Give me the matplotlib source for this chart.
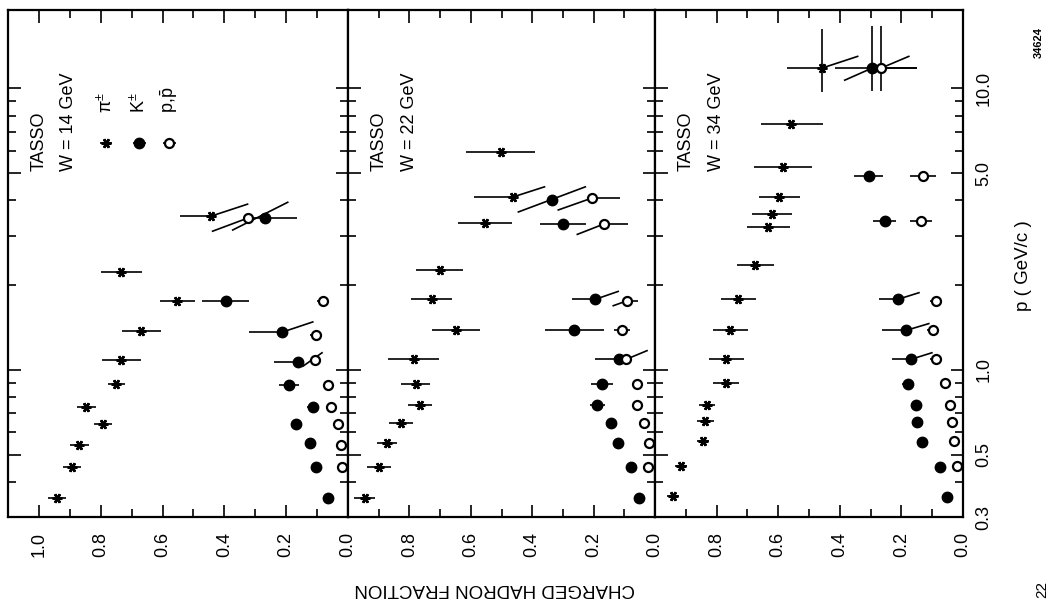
import numpy as np
import matplotlib
matplotlib.use('Agg')
import matplotlib.pyplot as plt
from matplotlib.ticker import FixedLocator, NullFormatter

#%% data: charged hadron fraction vs p, TASSO

# W = 14 GeV
p14_pi = [0.35, 0.45, 0.54, 0.64, 0.74, 0.89, 1.08, 1.37, 1.76, 2.22, 3.52]
f14_pi = [0.941, 0.893, 0.870, 0.792, 0.847, 0.750, 0.734, 0.669, 0.552, 0.734, 0.442]
up14_pi = [0.03, 0.03, 0.031, 0.03, 0.031, 0.028, 0.063, 0.063, 0.056, 0.066, 0.103]
dn14_pi = [0.03, 0.03, 0.031, 0.03, 0.031, 0.028, 0.063, 0.063, 0.056, 0.066, 0.0]

p14_k = [0.35, 0.45, 0.55, 0.64, 0.74, 0.88, 1.07, 1.36, 1.76, 3.46]
f14_k = [0.065, 0.104, 0.123, 0.169, 0.114, 0.190, 0.162, 0.214, 0.396, 0.269]
up14_k = [0, 0, 0, 0, 0.02, 0.032, 0.078, 0.107, 0.077, 0]
dn14_k = [0, 0, 0, 0, 0.02, 0.032, 0, 0, 0.077, 0.103]

p14_p = [0.45, 0.54, 0.64, 0.74, 0.88, 1.08, 1.33, 1.76, 3.46]
f14_p = [0.020, 0.023, 0.032, 0.055, 0.065, 0.107, 0.104, 0.081, 0.325]
up14_p = [0, 0, 0, 0, 0, 0, 0.02, 0.02, 0]
dn14_p = [0, 0, 0, 0, 0, 0.02, 0.02, 0.02, 0.05]

# slanted error lines (f1, p1, f2, p2)
slant14 = [(0.442, 3.52, 0.325, 3.88), (0.438, 3.11, 0.325, 3.46),
           (0.373, 3.14, 0.195, 3.94), (0.214, 1.36, 0.114, 1.48),
           (0.146, 1.03, 0.084, 1.15)]

# W = 22 GeV
p22_pi = [0.35, 0.45, 0.55, 0.65, 0.75, 0.89, 1.09, 1.38, 1.78, 2.27, 3.32, 4.12, 5.96]
f22_pi = [0.945, 0.899, 0.873, 0.828, 0.766, 0.779, 0.786, 0.649, 0.727, 0.701, 0.555, 0.461, 0.503]
up22_pi = [0.034, 0.038, 0.032, 0.039, 0.038, 0.047, 0.083, 0.079, 0.067, 0.076, 0.088, 0.13, 0.114]
dn22_pi = [0.034, 0.038, 0.032, 0.039, 0.038, 0.047, 0.083, 0.079, 0.067, 0.076, 0.088, 0.0, 0.113]

p22_k = [0.35, 0.45, 0.55, 0.65, 0.75, 0.89, 1.09, 1.38, 1.78, 3.30, 4.01]
f22_k = [0.052, 0.078, 0.120, 0.143, 0.188, 0.172, 0.117, 0.263, 0.195, 0.299, 0.334]
up22_k = [0, 0, 0, 0, 0.025, 0.036, 0.078, 0.096, 0.075, 0.075, 0]
dn22_k = [0, 0, 0, 0, 0.025, 0.036, 0, 0.096, 0, 0.075, 0]

p22_p = [0.45, 0.55, 0.65, 0.75, 0.89, 1.09, 1.38, 1.76, 3.30, 4.08]
f22_p = [0.023, 0.019, 0.036, 0.058, 0.058, 0.094, 0.107, 0.091, 0.166, 0.205]
up22_p = [0, 0, 0, 0, 0, 0, 0.027, 0, 0, 0]
dn22_p = [0, 0, 0, 0, 0, 0, 0.027, 0.036, 0.078, 0.091]

slant22 = [(0.461, 4.12, 0.36, 4.47), (0.445, 3.64, 0.227, 4.47),
           (0.195, 1.78, 0.12, 1.90), (0.094, 1.09, 0.026, 1.17),
           (0.136, 1.69, 0.091, 1.76), (0.253, 3.03, 0.166, 3.30),
           (0.315, 3.70, 0.205, 4.08)]

# W = 34 GeV
p34_pi = [0.355, 0.454, 0.558, 0.657, 0.75, 0.899, 1.09, 1.39, 1.78, 2.35, 3.21, 3.57, 4.11, 5.27, 7.5, 11.8]
f34_pi = [0.941, 0.915, 0.844, 0.837, 0.831, 0.769, 0.769, 0.756, 0.73, 0.674, 0.632, 0.619, 0.596, 0.583, 0.557, 0.459]
up34_pi = [0.02, 0.02, 0.02, 0.027, 0.027, 0.042, 0.057, 0.057, 0.057, 0.06, 0.07, 0.065, 0.067, 0.095, 0.098, 0.114]
dn34_pi = [0.02, 0.02, 0.02, 0.027, 0.027, 0.042, 0.057, 0.057, 0.057, 0.06, 0.07, 0.065, 0.067, 0.094, 0.101, 0]

p34_k = [0.352, 0.45, 0.553, 0.652, 0.75, 0.891, 1.09, 1.38, 1.78, 3.38, 4.89, 11.8]
f34_k = [0.052, 0.075, 0.134, 0.150, 0.153, 0.179, 0.169, 0.186, 0.212, 0.254, 0.306, 0.296]
up34_k = [0, 0, 0, 0, 0, 0.02, 0.06, 0.078, 0.06, 0.038, 0.047, 0.118]
dn34_k = [0, 0, 0, 0, 0, 0.02, 0, 0, 0, 0.038, 0.047, 0.146]

p34_p = [0.454, 0.558, 0.652, 0.75, 0.899, 1.09, 1.38, 1.76, 3.38, 4.89, 11.8]
f34_p = [0.020, 0.029, 0.036, 0.042, 0.059, 0.088, 0.098, 0.088, 0.137, 0.130, 0.267]
up34_p = [0, 0, 0, 0, 0, 0.02, 0.02, 0.02, 0.035, 0.043, 0]
dn34_p = [0, 0, 0, 0, 0, 0.02, 0.02, 0.02, 0.035, 0.043, 0.117]

slant34 = [(0.459, 11.8, 0.342, 13.0), (0.384, 10.7, 0.296, 11.8),
           (0.267, 11.8, 0.176, 13.0), (0.212, 1.78, 0.143, 1.88),
           (0.186, 1.38, 0.111, 1.46), (0.169, 1.09, 0.101, 1.15)]

# momentum error of the highest bin at 34 GeV (pi, K, p)
f34_top = [0.459, 0.296, 0.267]
plo34_top = [9.7, 9.8, 9.8]
phi34_top = [16.3, 16.7, 16.7]

energies = ['14', '22', '34']
p_ticks = [0.3, 0.5, 1.0, 5.0, 10.0]
p_ticklabels = ['0.3', '0.5', '1.0', '5.0', '10.0']
p_minor = [0.4, 0.6, 0.7, 0.8, 0.9, 2, 3, 4, 6, 7, 8, 9]

#%% plot

plt.rc('font', family='Liberation Sans')
plt.rcParams['mathtext.fontset'] = 'custom'
plt.rcParams['mathtext.rm'] = 'Liberation Sans'
plt.rcParams['xtick.direction'] = 'in'
plt.rcParams['ytick.direction'] = 'in'

pi_style = dict(marker=(6, 2, 90), ms=7, mew=1.8, mfc='k', mec='k')
k_style = dict(marker='o', ms=7.5, mfc='k', mec='k')
p_style = dict(marker='o', ms=6.5, mew=1.6, mfc='white', mec='k')


def draw(ax, p, f, up, dn, style):
    ax.errorbar(f, p, xerr=[dn, up], ls='none', color='k', elinewidth=1.2,
                capsize=0, **style)


fig = plt.figure(figsize=(10.51, 6.05), dpi=100)
W, H = 1051., 605.
bot = (H - 517) / H
hgt = (517 - 10) / H
ax1 = fig.add_axes([8 / W, bot, 340 / W, hgt])
ax2 = fig.add_axes([348 / W, bot, 307 / W, hgt])
ax3 = fig.add_axes([655 / W, bot, 308 / W, hgt])
axes = [ax1, ax2, ax3]

data = [(p14_pi, f14_pi, up14_pi, dn14_pi, p14_k, f14_k, up14_k, dn14_k,
         p14_p, f14_p, up14_p, dn14_p, slant14),
        (p22_pi, f22_pi, up22_pi, dn22_pi, p22_k, f22_k, up22_k, dn22_k,
         p22_p, f22_p, up22_p, dn22_p, slant22),
        (p34_pi, f34_pi, up34_pi, dn34_pi, p34_k, f34_k, up34_k, dn34_k,
         p34_p, f34_p, up34_p, dn34_p, slant34)]

for i, ax in enumerate(axes):
    d = data[i]
    for s in d[12]:
        ax.plot([s[0], s[2]], [s[1], s[3]], color='k', lw=1.2)
    draw(ax, d[0], d[1], d[2], d[3], pi_style)
    draw(ax, d[4], d[5], d[6], d[7], k_style)
    draw(ax, d[8], d[9], d[10], d[11], p_style)

    ax.set_yscale('log')
    ax.set_ylim(0.3, 19)
    if i == 0:
        ax.set_xlim(1.1, 0)
        ax.set_xticks([0, 0.2, 0.4, 0.6, 0.8, 1.0])
        ax.set_xticklabels(['0.0', '0.2', '0.4', '0.6', '0.8', '1.0'], rotation=90)
    else:
        ax.set_xlim(1.0, 0)
        ax.set_xticks([0, 0.2, 0.4, 0.6, 0.8])
        ax.set_xticklabels(['0.0', '0.2', '0.4', '0.6', '0.8'], rotation=90)
    ax.xaxis.set_minor_locator(FixedLocator([0.1, 0.3, 0.5, 0.7, 0.9]))
    ax.yaxis.set_major_locator(FixedLocator(p_ticks))
    ax.yaxis.set_minor_locator(FixedLocator(p_minor))
    ax.yaxis.set_minor_formatter(NullFormatter())
    ax.set_yticks(p_ticks)
    ax.set_yticklabels(p_ticklabels, rotation=90, va='center')
    ax.tick_params(axis='both', which='both', top=True, bottom=True,
                   left=True, right=True, width=1.2)
    ax.tick_params(which='major', length=9)
    ax.tick_params(which='minor', length=5.5)
    ax.tick_params(axis='x', labelsize=13, pad=11)
    ax.tick_params(axis='y', labelleft=False, labelright=(i == 2),
                   labelsize=13, pad=9)
    for sp in ax.spines.values():
        sp.set_linewidth(1.6)

    ax.text(0.90 if i else 1.0, 5.1, 'TASSO', rotation=90, rotation_mode='anchor',
            ha='left', va='center', fontsize=13)
    ax.text(0.80 if i else 0.903, 5.1, 'W = ' + energies[i] + ' GeV', rotation=90,
            rotation_mode='anchor', ha='left', va='center', fontsize=13)

# momentum error bars on the last bin at 34 GeV
ax3.vlines(f34_top, plo34_top, phi34_top, color='k', lw=1.2)

# legend (panel 1)
draw(ax1, [6.41], [0.782], [0.02], [0.02], pi_style)
draw(ax1, [6.41], [0.675], [0.02], [0.02], k_style)
draw(ax1, [6.41], [0.578], [0.02], [0.02], p_style)
for fx, lab in zip([0.782, 0.675, 0.578], [r'π$^{\pm}$', r'K$^{\pm}$', r'p,$\bar{\rm p}$']):
    ax1.text(fx, 8.2, lab, rotation=90, rotation_mode='anchor', ha='left',
             va='center', fontsize=13)

fig.text(495 / W, 1 - 588 / H, 'CHARGED HADRON FRACTION', rotation=180,
         ha='center', va='center', fontsize=13.5)
fig.text(1023 / W, 1 - 266 / H, 'p ( GeV/c )', rotation=90,
         ha='center', va='center', fontsize=13.5)
fig.text(1039 / W, 1 - 43 / H, '34624', rotation=90, ha='center',
         va='center', fontsize=8, fontweight='bold')
fig.text(1042 / W, 1 - 590 / H, '22', rotation=90, ha='center',
         va='center', fontsize=11)

plt.savefig('out.png', dpi=100)
